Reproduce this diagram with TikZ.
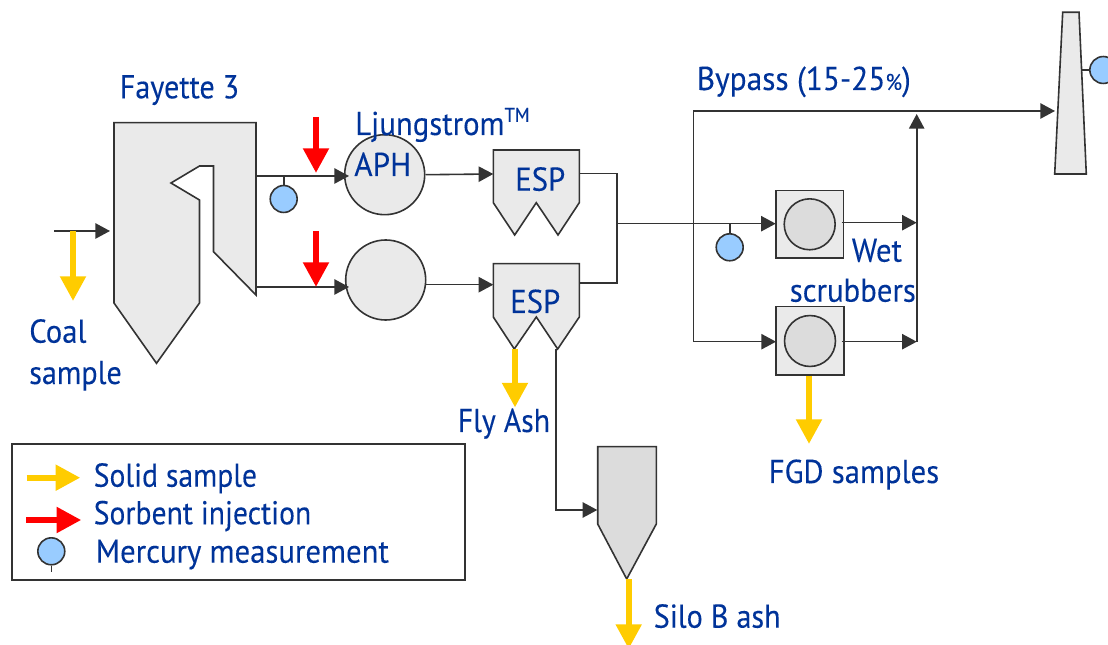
\documentclass[tikz,border=0pt]{standalone}
\usepackage{fontspec}
\usepackage{graphicx}
\setmainfont[FakeStretch=0.93,FakeBold=0.12]{PT Sans}
\usetikzlibrary{arrows.meta}
\definecolor{txt}{HTML}{003399}
\definecolor{ink}{HTML}{333333}
\definecolor{pale}{HTML}{EAEAEA}
\definecolor{mid}{HTML}{DCDCDC}
\definecolor{sky}{HTML}{99CCFF}
\definecolor{gold}{HTML}{FFCC00}
\newcommand{\squeezetext}[2]{\scalebox{#1}[1]{#2}}
\tikzset{
  x=0.75pt,y=-0.75pt,
  lbl/.style={anchor=base west,inner sep=0pt,text=txt,font=\fontsize{24.8}{26}\selectfont},
  unit/.style={draw=ink,fill=pale,line width=1.2pt,line join=miter},
  silo/.style={draw=ink,fill=mid,line width=1.2pt},
  flow/.style={draw=ink,line width=1.2pt,-{Triangle[length=11pt,width=11.5pt]}},
  pipe/.style={draw=ink,line width=1.2pt},
  disc/.style={circle,draw=ink,fill=pale,line width=1.2pt,inner sep=0pt,minimum size=60pt},
  drum/.style={circle,draw=ink,fill=mid,line width=1.2pt,inner sep=0pt,minimum size=38.2pt},
  meter/.style={circle,draw=ink,fill=sky,line width=1.2pt,inner sep=0pt,minimum size=20.2pt},
  solid/.style={draw=gold,line width=4.5pt,-{Triangle[length=18.5pt,width=18.5pt]}},
  sorbent/.style={draw=red,line width=4.5pt,-{Triangle[length=18.5pt,width=18.5pt]}},
}
\begin{document}
\begin{tikzpicture}
\useasboundingbox (0,0) rectangle (1108,645);
% boiler
\draw[unit] (114,122.7) -- (256,122.7) -- (256,295) -- (213.5,251.7) -- (213.5,166) -- (199.5,166) -- (171,183) -- (199.5,200) -- (199.5,303) -- (156.5,363.3) -- (114,303) -- cycle;
\coordinate (boilerin) at (110,231);
\coordinate (coalstart) at (54,231);
\coordinate (coaltap) at (73,231);
\coordinate (coalend) at (73,301);
\coordinate (boilerout1) at (256,176);
\coordinate (boilerout2) at (256,287);
% air preheaters
\node[disc] (aph1) at (384.7,174.7) {};
\node[disc] (aph2) at (385.7,280) {};
% ESPs
\draw[unit] (493.3,150) -- (579.3,150) -- (579.3,202.7) -- (558,235) -- (536.3,202.7) -- (514.7,235) -- (493.3,202.7) -- cycle;
\draw[unit] (493.3,263.7) -- (579.3,263.7) -- (579.3,317) -- (557.7,349) -- (536.3,317) -- (514.3,349) -- (493.3,317) -- cycle;
\coordinate (esp1in) at (493.3,174);
\coordinate (esp2in) at (493.3,284.7);
\coordinate (esp1out) at (579.3,173.7);
\coordinate (esp2out) at (579.3,283.3);
\coordinate (esp2hop1) at (515,349);
\coordinate (esp2hop2) at (556,349);
\coordinate (flyend) at (515,407.5);
\coordinate (merge) at (616.7,223.7);
\coordinate (mergetop) at (616.7,173.7);
\coordinate (mergebot) at (616.7,283.3);
% scrubbers
\draw[unit] (775.7,190.7) rectangle (843.3,258.3);
\draw[unit] (776,306.7) rectangle (844,375);
\node[drum] (drum1) at (809.7,224.3) {};
\node[drum] (drum2) at (810,341) {};
\coordinate (scr1in) at (775.7,223.7);
\coordinate (scr2in) at (776,341.7);
\coordinate (scr1out) at (841.5,222.7);
\coordinate (scr2out) at (841.5,341.7);
\coordinate (fgdtop) at (809,376);
\coordinate (fgdend) at (809,444);
\coordinate (bypb) at (693.3,341.7);
\coordinate (bypt) at (693.3,111);
\coordinate (colb) at (916.7,341.7);
\coordinate (colm) at (916.7,222.7);
\coordinate (colt) at (916.7,114);
% stack
\draw[unit] (1062.7,12.3) -- (1079,12.3) -- (1086.3,174) -- (1054.7,174) -- cycle;
\coordinate (stackin) at (1055,111);
\coordinate (stackside) at (1081.7,70);
% silo
\draw[silo] (597.7,446.7) -- (656.3,446.7) -- (656.3,524) -- (626.7,579) -- (597.7,524) -- cycle;
\coordinate (siloin) at (597.3,510);
\coordinate (silocorner) at (556,510);
\coordinate (silotop) at (628.7,579);
\coordinate (siloend) at (628.7,649);
% connectors
\draw[flow] (coalstart) -- (boilerin);
\draw[flow] (boilerout1) -- (349,176);
\draw[flow] (boilerout2) -- (349,287);
\draw[flow] (aph1.east) -- (esp1in);
\draw[flow] (425.7,284.7) -- (esp2in);
\draw[pipe] (esp1out) -- (mergetop) -- (mergebot) -- (esp2out);
\draw[flow] (merge) -- (scr1in);
\draw[pipe] (bypb) -- (bypt);
\draw[flow] (bypt) -- (stackin);
\draw[flow] (bypb) -- (scr2in);
\draw[flow] (scr1out) -- (colm);
\draw[flow] (scr2out) -- (colb);
\draw[flow] (colb) -- (colt);
\draw[flow] (esp2hop2) -- (silocorner) -- (siloin);
% meters
\node[meter] (m1) at (283.7,199) {};
\draw[pipe] (m1.north) -- (283.7,176);
\node[meter] (m2) at (729.7,247.3) {};
\draw[pipe] (m2.north) -- (729.7,223.7);
\node[meter] (m3) at (1103.3,70) {};
\draw[pipe] (stackside) -- (m3.west);
% sample and sorbent arrows
\draw[solid] (coaltap) -- (coalend);
\draw[solid] (esp2hop1) -- (flyend);
\draw[solid] (fgdtop) -- (fgdend);
\draw[solid] (silotop) -- (siloend);
\coordinate (r1a) at (316,117);
\coordinate (r1b) at (316,173);
\coordinate (r2a) at (316,231);
\coordinate (r2b) at (316,287);
\draw[sorbent] (r1a) -- (r1b);
\draw[sorbent] (r2a) -- (r2b);
% legend
\draw[draw=ink,line width=1.2pt] (11.7,444) rectangle (465,580);
\coordinate (ly1) at (26.7,477.7);
\coordinate (ly2) at (80.3,477.7);
\coordinate (lr1) at (26,520);
\coordinate (lr2) at (81.3,520);
\draw[solid] (ly1) -- (ly2);
\draw[sorbent] (lr1) -- (lr2);
\node[meter] (lm) at (51.3,551.3) {};
\coordinate (lmend) at (51.3,571.7);
\draw[pipe] (lm.south) -- (lmend);
% labels
\node[lbl] (t1) at (119.5,98.3) {\squeezetext{0.98}{Fayette 3}};
\node[lbl] (t2) at (29,342.7) {Coal};
\node[lbl] (t3) at (29,384) {\squeezetext{0.98}{sample}};
\node[lbl] (t4) at (355,135) {Ljungstrom\raisebox{0.40em}{\fontsize{15}{15}\selectfont TM}};
\node[lbl] (t5) at (354,176) {\squeezetext{1.02}{APH}};
\node[lbl] (t6) at (515,190.7) {ESP};
\node[lbl] (t7) at (510,313) {ESP};
\node[lbl] (t8) at (457.5,432) {\squeezetext{0.97}{Fly Ash}};
\node[lbl] (t9) at (696.5,90) {\squeezetext{1.02}{Bypass (15-25{\fontsize{17}{17}\selectfont\%})}};
\node[lbl] (t10) at (851.5,261.7) {Wet};
\node[lbl] (t11) at (789.5,301.7) {scrubbers};
\node[lbl] (t12) at (768.5,483) {FGD samples};
\node[lbl] (t13) at (653.5,627.7) {\squeezetext{0.98}{Silo B ash}};
\node[lbl] (t14) at (93.5,486.7) {\squeezetext{0.965}{Solid sample}};
\node[lbl] (t15) at (93.5,524.3) {\squeezetext{0.965}{Sorbent injection}};
\node[lbl] (t16) at (95.5,562.7) {Mercury measurement};
\end{tikzpicture}
\end{document}
